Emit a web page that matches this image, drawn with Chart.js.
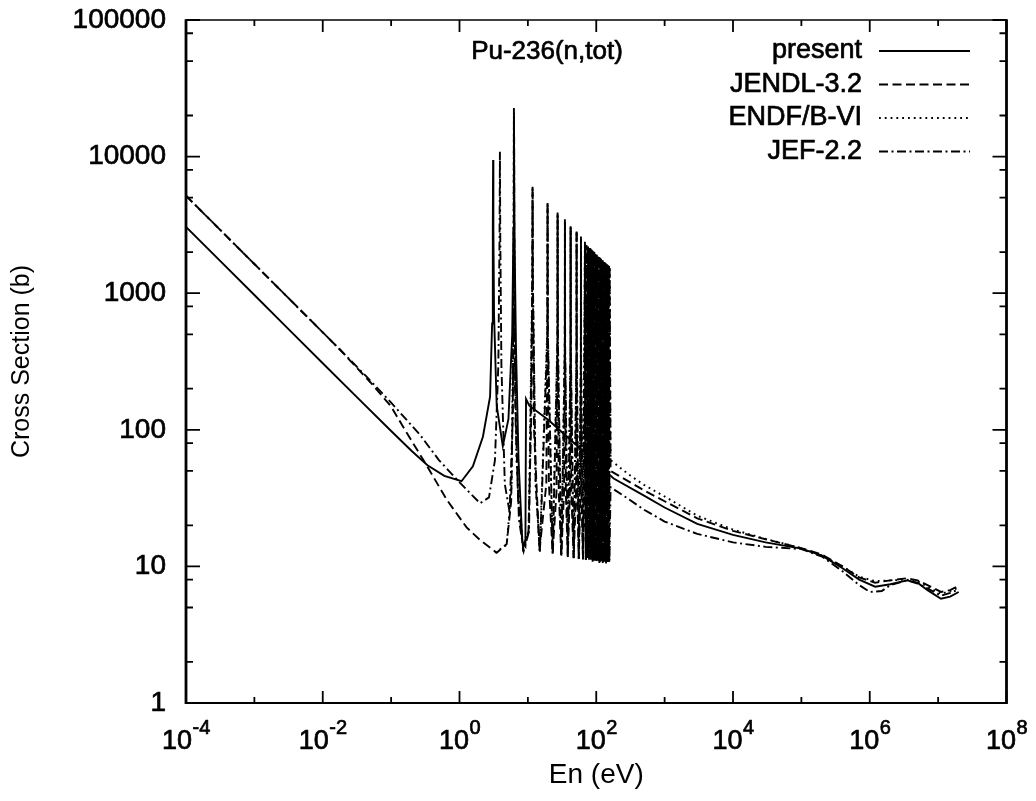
<!DOCTYPE html>
<html>
<head>
<meta charset="utf-8">
<script src="https://cdn.jsdelivr.net/npm/chart.js@4.4.1/dist/chart.umd.min.js"></script>
<style>
html,body{margin:0;padding:0;background:#fff;overflow:hidden;width:1036px;height:801px;}
#wrap{position:absolute;left:0;top:0;width:1036px;height:801px;}
canvas{display:block;}
</style>
</head>
<body>
<div id="wrap"><canvas id="c"></canvas></div>
<script>
// ---- text ----
const plotTitle = 'Pu-236(n,tot)';
const seriesNames = ['present', 'JENDL-3.2', 'ENDF/B-VI', 'JEF-2.2'];
const xTitle = 'En (eV)';
const yTitle = 'Cross Section (b)';

// ---- tick values / labels ----
const xLabelTicks = [1e-4, 1e-2, 1, 1e2, 1e4, 1e6, 1e8];
const xTickBase = '10';
const xTickExps = ['-4', '-2', '0', '2', '4', '6', '8'];
const xMinorTicks = [1e-3, 1e-1, 10, 1e3, 1e5, 1e7];
const yLabelTicks = [1, 10, 100, 1000, 10000, 100000];
const yTickLabels = ['1', '10', '100', '1000', '10000', '100000'];
const yMinorTicks = [2, 5, 8, 20, 50, 80, 200, 500, 800, 2000, 5000, 8000, 20000, 50000, 80000];

// ---- present ----
const presentE = [1e-4, 3e-4, 1e-3, 3e-3, 0.01, 0.03, 0.1, 0.2, 0.34, 0.6, 1.07, 1.57, 2.2, 2.8, 3.0, 3.07, 3.1, 3.13, 3.2, 3.5, 4.3, 5.2, 5.9, 6.15, 6.25, 6.35, 6.7, 7.3, 8.3, 9.2, 9.4, 10.5, 20, 50, 100, 180, 500, 1000, 3000, 1e4, 3e4, 1e5, 2e5, 4e5, 7e5, 1.2e6, 2e6, 3.5e6, 5e6, 7e6, 1.1e7, 1.5e7, 2e7];
const presentXS = [3060, 1770, 970, 560, 307, 178, 98, 70, 55, 46, 42, 54, 89, 175, 600, 3000, 9440, 3000, 700, 150, 76, 120, 500, 3000, 22700, 3000, 400, 60, 15, 14, 168, 150, 118, 78, 57, 44, 33, 27, 20.5, 17, 15, 13.5, 12, 9.7, 8, 7.1, 7.4, 7.9, 7.6, 6.7, 5.8, 6.0, 6.5];

// ---- JENDL-3.2 ----
const jendlE = [1e-4, 3e-4, 1e-3, 3e-3, 0.01, 0.0178, 0.05, 0.1, 0.169, 0.33, 0.65, 1.27, 2.0, 3.5, 4.9, 5.7, 6.05, 6.2, 6.25, 6.3, 6.5, 7.2, 8.5,
  10.2, 11.2, 11.6, 11.7, 11.8, 12.3, 14.8,
  18.6, 19.3, 19.4, 19.5, 20.3, 23,
  26.2, 27.1, 27.2, 27.3, 28.3, 30.8,
  33.8, 34.7, 34.8, 34.9, 35.9, 38.3,
  41.2, 42.1, 42.2, 42.3, 43.2, 46.7,
  50.6, 51.5, 51.6, 51.7, 52.6, 55.5,
  58.9, 59.6, 59.7, 59.8, 60.6, 63.9,
  67.5, 68.3, 69.2, 70.2,
  72, 74, 76, 78.5, 81, 83.5, 86, 88.5, 91, 93.5, 96, 99, 102, 105, 108, 111, 114, 117.5, 121, 124.5, 128, 131.5, 135, 139, 143, 146.5, 150, 153.5, 157,
  162, 500, 1000, 3000, 1e4, 3e4, 1e5, 2e5, 4e5, 7e5, 1.2e6, 2e6, 3.5e6, 5e6, 7e6, 1.1e7, 1.5e7, 2e7];
const jendlXS = [5170, 2985, 1635, 944, 517, 387, 222, 148, 95, 55, 30.8, 19.3, 15.6, 12.6, 14.6, 30, 200, 2500, 20000, 2500, 200, 30, 13.8,
  18, 120, 1500, 6160, 1500, 100, 13,
  40, 600, 4690, 600, 40, 12.5,
  35, 500, 3900, 500, 35, 12,
  35, 450, 3475, 450, 35, 11.8,
  35, 400, 3100, 400, 35, 11.5,
  35, 380, 2900, 380, 35, 11.4,
  35, 350, 2600, 350, 35, 11.3,
  40, 2380, 40, 11.2,
  2250, 11.5, 2200, 11, 2140, 11.2, 2080, 10.8, 2020, 11, 1970, 10.7, 1910, 11, 1860, 10.6, 1810, 10.9, 1760, 10.6, 1710, 10.8, 1670, 10.5, 1630, 10.7, 1600, 10.5, 1570,
  50, 36, 30, 22.5, 18.2, 15.8, 13.6, 12.2, 10, 8.3, 7.6, 7.9, 8.2, 7.9, 7.3, 6.5, 6.7, 7.2];

// ---- ENDF/B-VI ----
const endfE = [3.3, 4.9, 5.8, 6.15, 6.25, 6.35, 6.8, 8.5,
  10.3, 11.6, 11.7, 11.8, 13, 14.9,
  19.25, 19.4, 19.55, 23,
  27.05, 27.2, 27.35, 30.8,
  34.65, 34.8, 34.95, 38.3,
  42.05, 42.2, 42.35, 46.7,
  51.45, 51.6, 51.75, 55.5,
  59.55, 59.7, 59.85, 63.9,
  68.3, 70.5,
  73, 75, 77.2, 79.8, 82.2, 84.8, 87.2, 89.8, 92.2, 94.8, 97.5, 100.5, 103.5, 106.5, 109.5, 112.5, 115.7, 119.2, 122.7, 126.2, 129.7, 133.5, 137, 141, 144.7, 148.2, 151.7, 154.6, 157.5,
  162, 300, 500, 1000, 3000, 1e4, 3e4, 1e5, 2e5, 4e5, 7e5, 1.2e6, 2e6, 3.5e6, 5e6, 7e6, 1.1e7, 1.5e7, 2e7];
const endfXS = [12.6, 14.4, 40, 1800, 21000, 1800, 60, 13.6,
  18, 1300, 6000, 1300, 40, 12.9,
  550, 4600, 550, 12.4,
  480, 3850, 480, 12,
  420, 3400, 420, 11.8,
  390, 3050, 390, 11.5,
  360, 2850, 360, 11.4,
  340, 2550, 340, 11.3,
  2350, 11.1,
  2230, 11.3, 2180, 11.1, 2120, 11.4, 2060, 10.9, 2010, 11.2, 1950, 10.8, 1900, 11.1, 1850, 10.7, 1800, 11, 1750, 10.7, 1700, 10.9, 1660, 10.6, 1620, 10.8, 1590, 10.6, 1560,
  60, 47, 39.5, 32.5, 23.5, 18.6, 15.9, 13.6, 12, 10, 8.4, 7.8, 7.9, 8.0, 7.8, 7.1, 6.3, 6.6, 7.0];

// ---- JEF-2.2 ----
const jefE = [1e-4, 3e-4, 1e-3, 3e-3, 0.01, 0.0178, 0.0438, 0.1, 0.264, 0.5, 1.01, 2.0, 2.7, 3.3, 3.7, 3.85, 3.9, 3.95, 4.1, 4.6, 5.4, 6.0, 6.25, 6.3, 6.35, 6.6, 7.4, 8.7,
  10.4, 11.65, 11.75, 11.85, 13, 15,
  19.3, 19.45, 19.6, 23.1,
  27.1, 27.3, 27.5, 30.9,
  34.7, 34.9, 35.1, 38.4,
  42.1, 42.3, 42.5, 46.8,
  51.5, 51.7, 51.9, 55.6,
  59.6, 59.8, 60, 64,
  68.4, 71,
  74, 76, 78.5, 81, 83.5, 86, 88.5, 91, 93.5, 96, 99, 102, 105, 108, 111, 114, 117.5, 121, 124.5, 128, 131.5, 135, 139, 143, 146.5, 150, 153.5, 156,
  162, 300, 500, 1000, 3000, 1e4, 3e4, 1e5, 2e5, 4e5, 7e5, 1e6, 1.5e6, 2e6, 3.5e6, 5e6, 7e6, 1.1e7, 1.5e7, 2e7];
const jefXS = [5170, 2985, 1635, 944, 517, 387, 245, 158, 92, 60, 41, 29, 32, 60, 300, 2500, 10860, 2500, 300, 40, 25, 120, 1500, 14000, 1500, 120, 22, 13,
  18, 1200, 5500, 1200, 40, 12.8,
  500, 4300, 500, 12.3,
  450, 3700, 450, 11.9,
  400, 3300, 400, 11.7,
  380, 3000, 380, 11.5,
  350, 2750, 350, 11.4,
  330, 2500, 330, 11.3,
  2300, 11.2,
  2200, 11.8, 2150, 11.5, 2100, 11.6, 2050, 11.3, 2000, 11.4, 1940, 11.2, 1890, 11.3, 1840, 11.1, 1790, 11.2, 1740, 11, 1690, 11.1, 1650, 10.9, 1610, 11, 1580, 11,
  38, 31, 26, 21.3, 17.3, 15, 13.9, 13.4, 11.8, 9.2, 7.3, 6.5, 6.6, 7.3, 7.9, 7.5, 6.9, 6.1, 6.4, 6.8];

const FONT = '"Liberation Sans", Arial, Helvetica, sans-serif';
const TXT_STROKE = 0.7;
Chart.defaults.font.family = FONT;
Chart.defaults.font.size = 27;
Chart.defaults.color = '#000';

const toPts = (E, X) => E.map((e, i) => ({x: e, y: X[i]}));

const framePlugin = {
  id: 'gpFrame',
  afterDatasetsDraw(chart) {
    const {ctx, chartArea: a, scales: {x, y}} = chart;
    ctx.save();
    ctx.strokeStyle = '#000';
    ctx.setLineDash([]);
    ctx.lineWidth = 1.8;
    ctx.beginPath();
    const vt = (v, len) => {
      const px = x.getPixelForValue(v);
      ctx.moveTo(px, a.bottom); ctx.lineTo(px, a.bottom - len);
      ctx.moveTo(px, a.top); ctx.lineTo(px, a.top + len);
    };
    const ht = (v, len) => {
      const py = y.getPixelForValue(v);
      ctx.moveTo(a.left, py); ctx.lineTo(a.left + len, py);
      ctx.moveTo(a.right, py); ctx.lineTo(a.right - len, py);
    };
    xLabelTicks.forEach(v => vt(v, 12));
    xMinorTicks.forEach(v => vt(v, 6));
    yLabelTicks.forEach(v => ht(v, 14));
    yMinorTicks.forEach(v => ht(v, 7));
    ctx.stroke();
    const side = (w, x0, y0, x1, y1) => { ctx.lineWidth = w; ctx.beginPath(); ctx.moveTo(x0, y0); ctx.lineTo(x1, y1); ctx.stroke(); };
    side(1.6, a.left, a.top, a.right, a.top);
    side(2.2, a.left, a.bottom, a.right, a.bottom);
    side(2.8, a.left, a.top - 0.8, a.left, a.bottom + 1.1);
    side(2.8, a.right, a.top - 0.8, a.right, a.bottom + 1.1);
    ctx.restore();
  }
};

function txt(ctx, s, x, y) {
  ctx.fillText(s, x, y);
  ctx.strokeText(s, x, y);
}

const textPlugin = {
  id: 'gpText',
  afterDraw(chart) {
    const {ctx, scales: {x}} = chart;
    ctx.save();
    ctx.fillStyle = '#000';
    ctx.strokeStyle = '#000';
    ctx.lineWidth = TXT_STROKE;
    ctx.lineJoin = 'round';
    // x tick labels 10^n
    xLabelTicks.forEach((v, i) => {
      const px = x.getPixelForValue(v);
      ctx.font = '27px ' + FONT;
      const wb = ctx.measureText(xTickBase).width;
      ctx.font = '20px ' + FONT;
      const we = ctx.measureText(xTickExps[i]).width;
      const x0 = px - (wb + we) / 2;
      ctx.textAlign = 'left';
      ctx.textBaseline = 'alphabetic';
      ctx.font = '27px ' + FONT;
      txt(ctx, xTickBase, x0, 749);
      ctx.font = '20px ' + FONT;
      txt(ctx, xTickExps[i], x0 + wb + 0.5, 734);
    });
    // title and legend
    ctx.font = '26px ' + FONT;
    ctx.textBaseline = 'middle';
    ctx.textAlign = 'center';
    txt(ctx, plotTitle, 547, 52);
    ctx.font = '27px ' + FONT;
    chart.data.datasets.forEach((ds, i) => {
      const yy = 51 + i * 33.5;
      ctx.textAlign = 'right';
      ctx.lineWidth = TXT_STROKE;
      ctx.setLineDash([]);
      txt(ctx, ds.label, 862, yy);
      ctx.setLineDash(ds.borderDash || []);
      ctx.lineWidth = ds.borderWidth;
      ctx.beginPath();
      ctx.moveTo(879, yy);
      ctx.lineTo(970, yy);
      ctx.stroke();
    });
    ctx.restore();
  }
};

const common = {borderColor: '#000', backgroundColor: '#000', borderWidth: 1.9, pointRadius: 0, tension: 0, fill: false};

new Chart(document.getElementById('c'), {
  type: 'line',
  data: {
    datasets: [
      Object.assign({label: seriesNames[0], data: toPts(presentE, presentXS), borderDash: []}, common),
      Object.assign({label: seriesNames[1], data: toPts(jendlE, jendlXS), borderDash: [9, 4.5]}, common),
      Object.assign({label: seriesNames[2], data: toPts(endfE, endfXS), borderDash: [1.8, 4]}, common),
      Object.assign({label: seriesNames[3], data: toPts(jefE, jefXS), borderDash: [9, 3.5, 2, 3.5]}, common)
    ]
  },
  options: {
    responsive: true,
    maintainAspectRatio: false,
    animation: false,
    events: [],
    layout: {padding: {top: 20, right: 29.5, bottom: 0, left: 0}},
    plugins: {legend: {display: false}, tooltip: {enabled: false}, title: {display: false}},
    scales: {
      x: {
        type: 'logarithmic', min: 1e-4, max: 1e8, position: 'bottom',
        afterBuildTicks: s => { s.ticks = xLabelTicks.map(v => ({value: v})); },
        afterFit: s => { s.height = 98; s.paddingLeft = 0; s.paddingRight = 0; },
        ticks: {display: false},
        grid: {display: false, drawTicks: false},
        border: {display: false},
        title: {display: true, text: xTitle, color: '#000', font: {size: 28}, padding: {top: 0, bottom: 9}}
      },
      y: {
        type: 'logarithmic', min: 1, max: 1e5, position: 'left',
        afterBuildTicks: s => { s.ticks = yLabelTicks.map(v => ({value: v})); },
        afterFit: s => { s.width = 186; s.paddingTop = 0; s.paddingBottom = 0; },
        ticks: {autoSkip: false, padding: 20, color: '#000', font: {size: 28},
          textStrokeColor: '#000', textStrokeWidth: TXT_STROKE,
          callback: (v, i) => yTickLabels[i]},
        grid: {display: false, drawTicks: false},
        border: {display: false},
        title: {display: true, text: yTitle, color: '#000', font: {size: 25}, padding: {top: 7, bottom: 0}}
      }
    }
  },
  plugins: [framePlugin, textPlugin]
});
</script>
</body>
</html>
